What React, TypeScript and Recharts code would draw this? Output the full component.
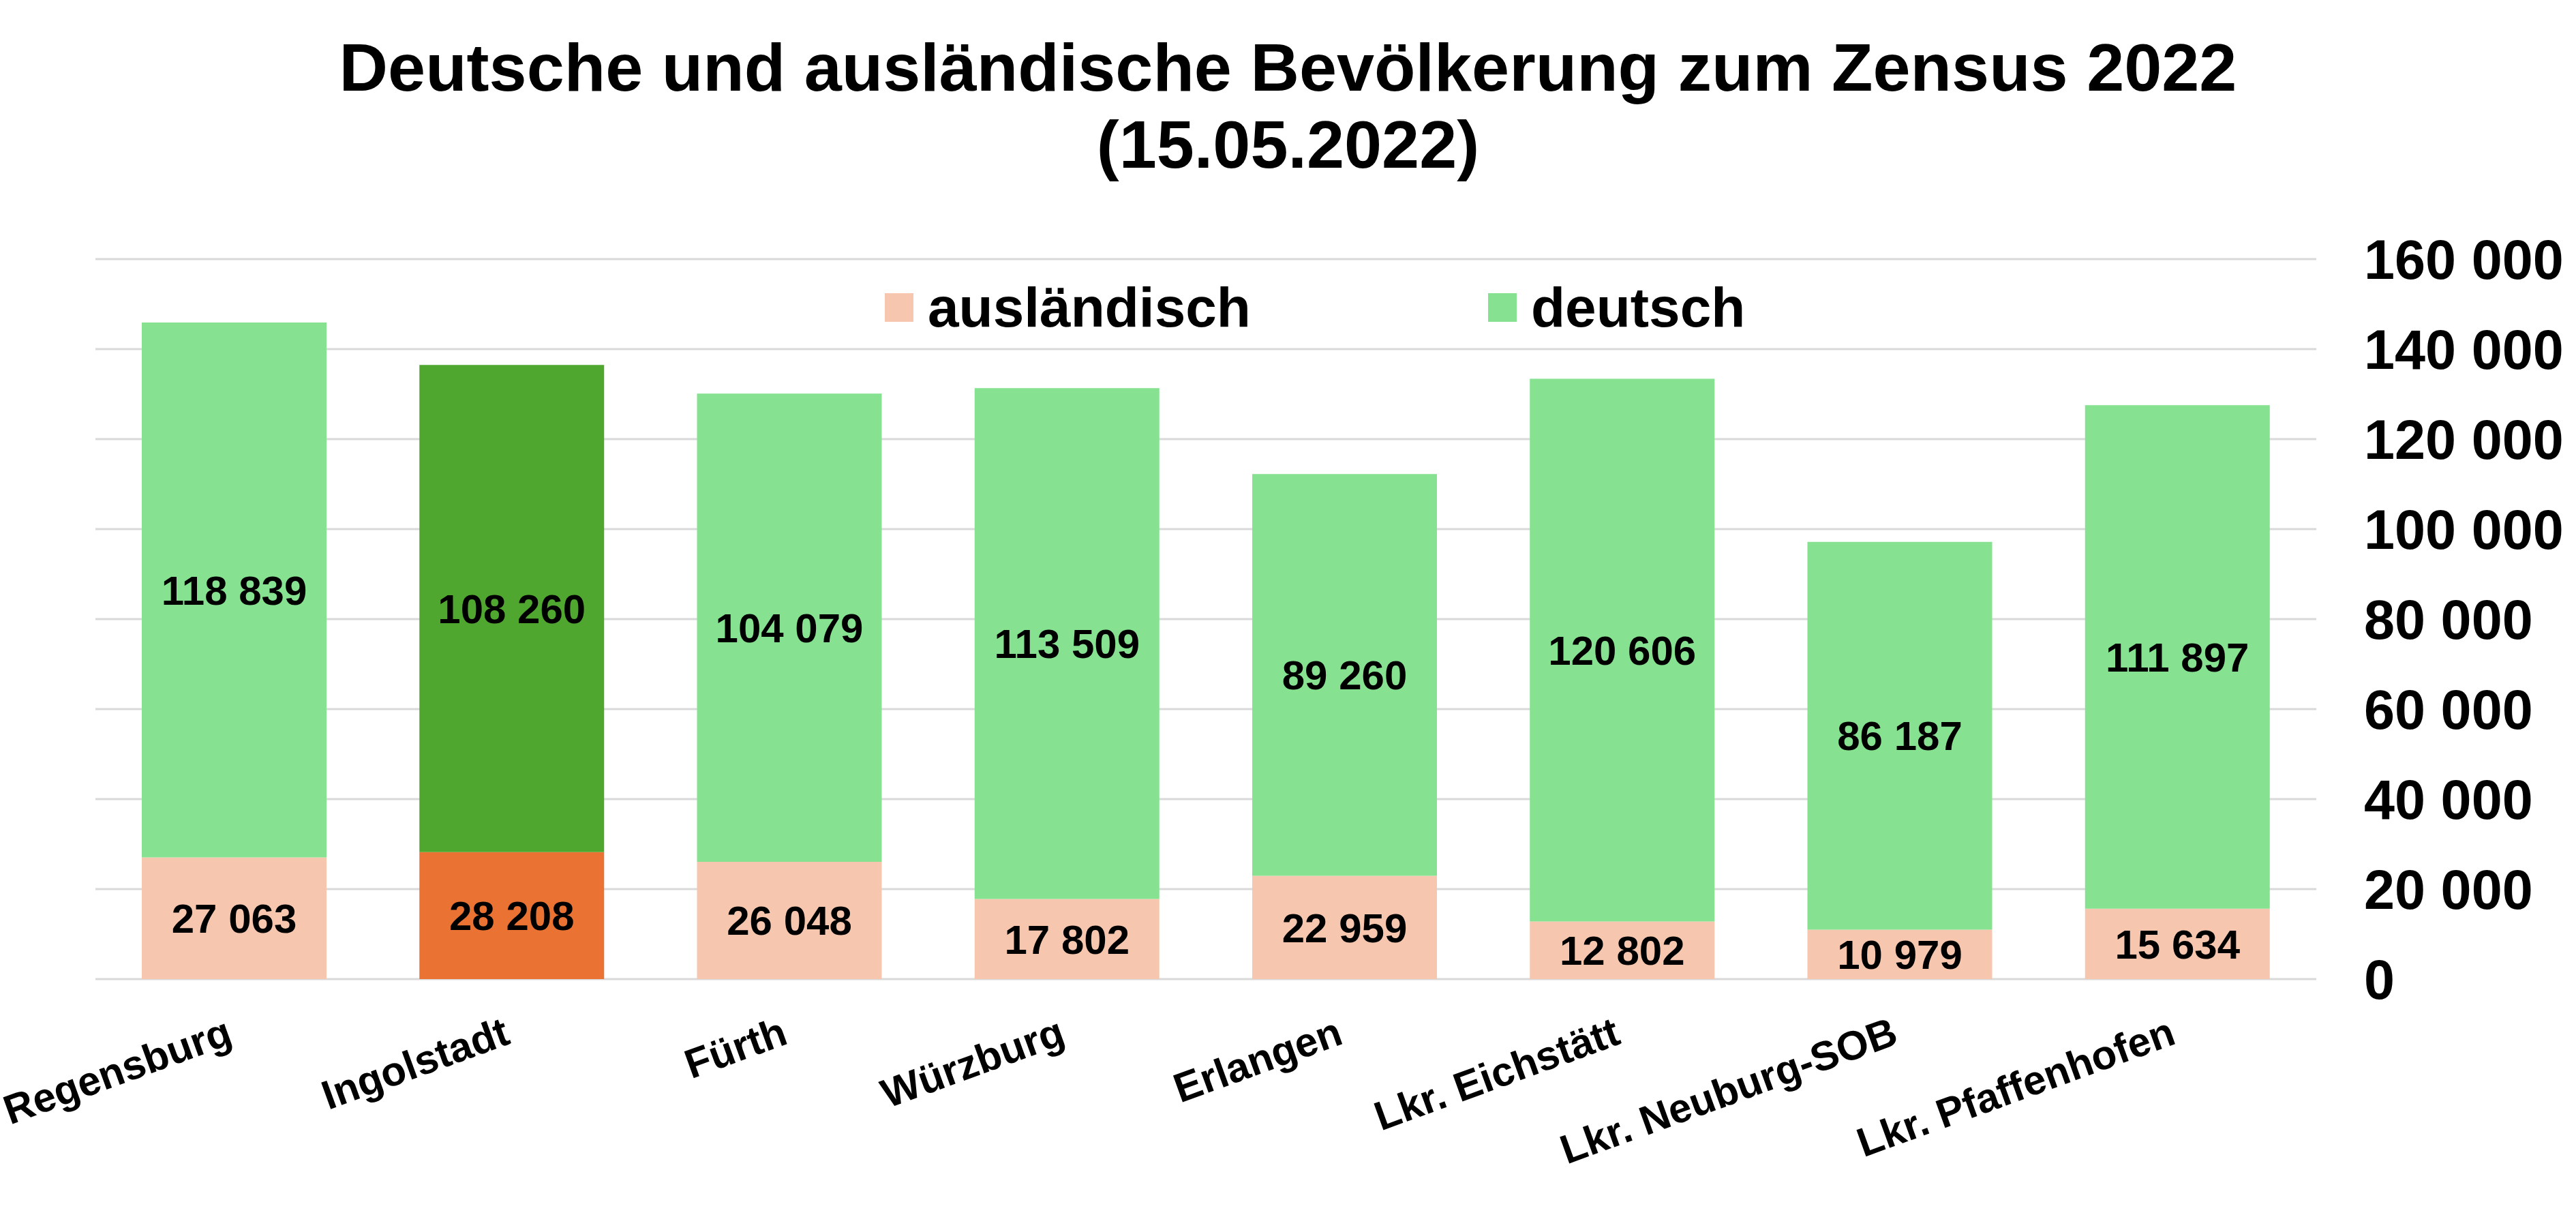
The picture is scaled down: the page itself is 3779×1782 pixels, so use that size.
import React from 'react';
import { BarChart, Bar, XAxis, YAxis, CartesianGrid, Legend, LabelList, Cell } from 'recharts';

const regions = ['Regensburg', 'Ingolstadt', 'Fürth', 'Würzburg', 'Erlangen', 'Lkr. Eichstätt', 'Lkr. Neuburg-SOB', 'Lkr. Pfaffenhofen'];
const auslaendisch = [27063, 28208, 26048, 17802, 22959, 12802, 10979, 15634];
const deutsch = [118839, 108260, 104079, 113509, 89260, 120606, 86187, 111897];
const yTicks = [0, 20000, 40000, 60000, 80000, 100000, 120000, 140000, 160000];
const highlight = 'Ingolstadt';

const data = regions.map((name, i) => ({ name, auslaendisch: auslaendisch[i], deutsch: deutsch[i] }));

const FONT = '"Liberation Sans", Arial, sans-serif';
const GREEN = '#86E290';
const PEACH = '#F6C7AE';
const GREEN_HL = '#4FA72F';
const ORANGE_HL = '#EA7334';

const fmt = (v: number) => String(v).replace(/\B(?=(\d{3})+(?!\d))/g, ' ');

const XTick = ({ x, y, payload }: any) => (
  <text
    x={x}
    y={y}
    transform={`rotate(-20, ${x}, ${y})`}
    textAnchor="end"
    fontSize={60}
    fontWeight={700}
    fontFamily={FONT}
    fill="#000"
  >
    {payload.value}
  </text>
);

const LegendContent = () => (
  <div style={{ display: 'flex', alignItems: 'center', fontFamily: FONT, fontWeight: 700, fontSize: 82, lineHeight: '82px' }}>
    <div style={{ width: 42, height: 42, background: PEACH, marginRight: 21 }} />
    <span>ausländisch</span>
    <div style={{ width: 42, height: 42, background: GREEN, marginLeft: 348, marginRight: 21 }} />
    <span>deutsch</span>
  </div>
);

export default function App() {
  return (
    <div style={{ position: 'absolute', left: 0, top: 0, width: 3779, height: 1782, background: '#fff', fontFamily: FONT }}>
      <div
        style={{
          position: 'absolute',
          left: 0,
          top: 42,
          width: 3779,
          textAlign: 'center',
          fontSize: 99,
          lineHeight: '113px',
          fontWeight: 700,
          color: '#000',
        }}
      >
        Deutsche und ausländische Bevölkerung zum Zensus 2022
        <br />
        (15.05.2022)
      </div>
      <BarChart width={3779} height={1782} data={data} margin={{ top: 380, right: 0, bottom: 0, left: 140 }}>
        <CartesianGrid vertical={false} stroke="#D9D9D9" strokeWidth={3} />
        <XAxis
          dataKey="name"
          interval={0}
          axisLine={false}
          tickLine={false}
          tickSize={0}
          tickMargin={94}
          height={346}
          tick={<XTick />}
        />
        <YAxis
          orientation="right"
          width={381}
          domain={[0, 160000]}
          ticks={yTicks}
          tickFormatter={fmt}
          axisLine={false}
          tickLine={false}
          tickSize={0}
          tickMargin={70}
          tick={{ fontSize: 81, fontWeight: 700, fill: '#000', fontFamily: FONT }}
        />
        <Legend
          layout="vertical"
          align="center"
          verticalAlign="middle"
          content={<LegendContent />}
          wrapperStyle={{ left: 1298, top: 410, width: 'auto', height: 'auto' }}
        />
        <Bar dataKey="auslaendisch" name="ausländisch" stackId="a" barSize={271} fill={PEACH} isAnimationActive={false}>
          {data.map((d) => (
            <Cell key={d.name} fill={d.name === highlight ? ORANGE_HL : PEACH} />
          ))}
          <LabelList dataKey="auslaendisch" position="center" formatter={fmt} fontSize={60} fontWeight={700} fill="#000" fontFamily={FONT} />
        </Bar>
        <Bar dataKey="deutsch" name="deutsch" stackId="a" barSize={271} fill={GREEN} isAnimationActive={false}>
          {data.map((d) => (
            <Cell key={d.name} fill={d.name === highlight ? GREEN_HL : GREEN} />
          ))}
          <LabelList dataKey="deutsch" position="center" formatter={fmt} fontSize={60} fontWeight={700} fill="#000" fontFamily={FONT} />
        </Bar>
      </BarChart>
    </div>
  );
}
